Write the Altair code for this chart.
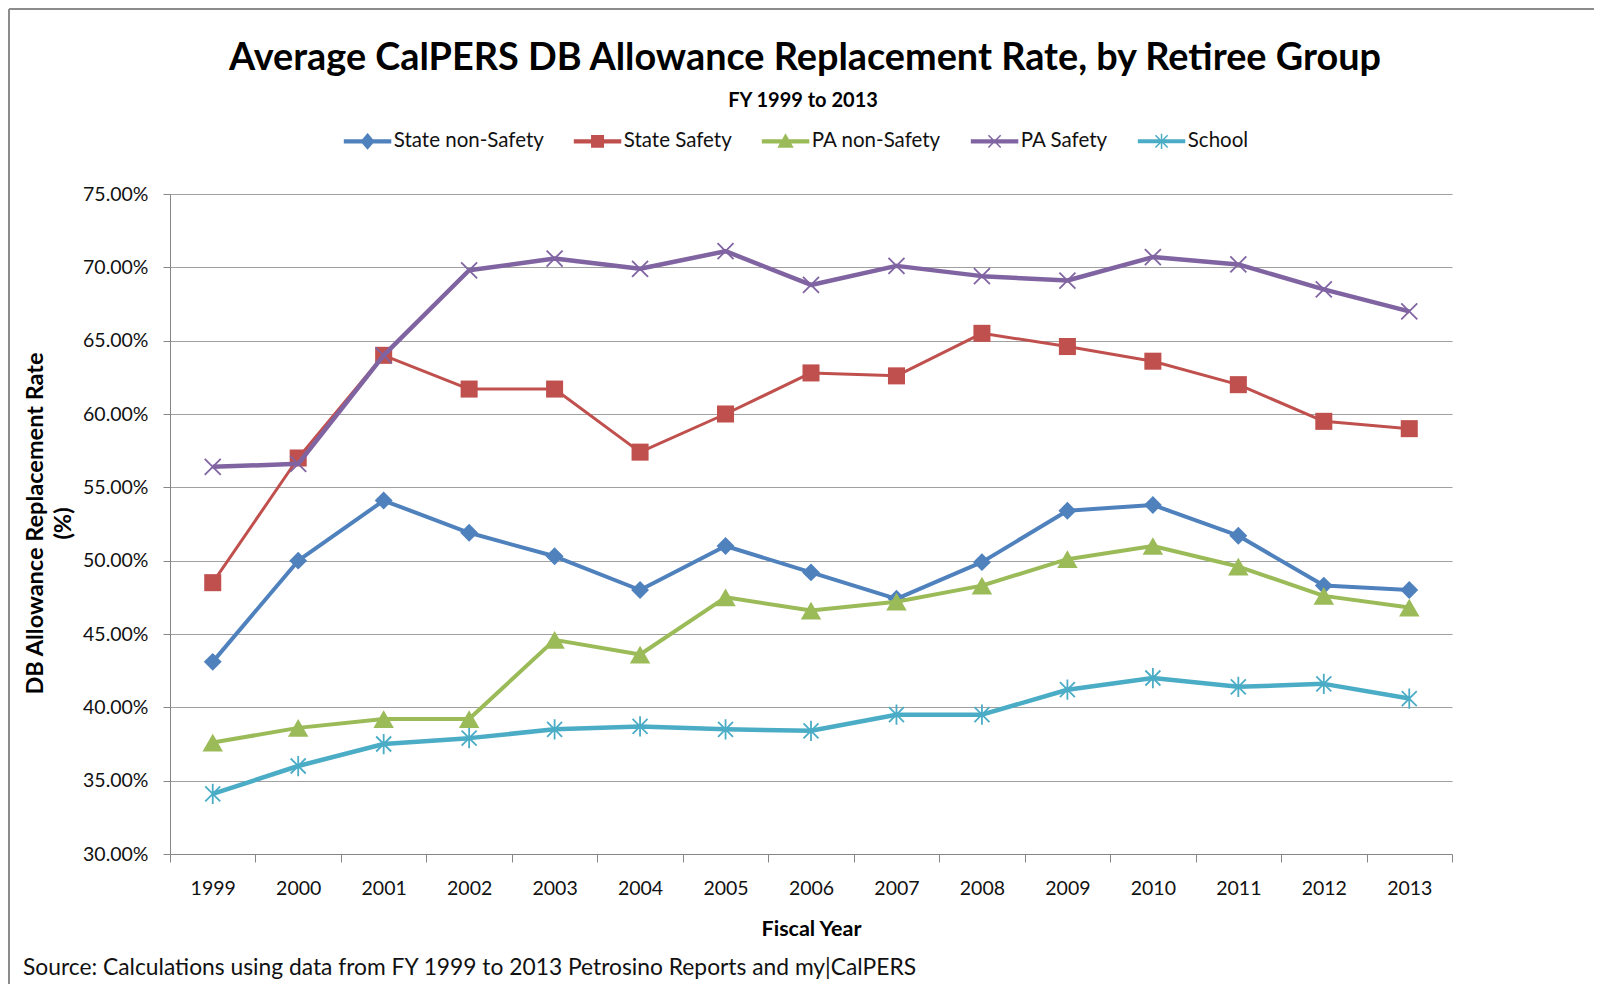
import altair as alt
import pandas as pd

# ---------------- data ----------------
years = [str(y) for y in range(1999, 2014)]
series_names = ["State non-Safety", "State Safety", "PA non-Safety", "PA Safety", "School"]
state_non_safety = [43.1, 50.0, 54.1, 51.9, 50.3, 48.0, 51.0, 49.2, 47.4, 49.9, 53.4, 53.8, 51.7, 48.3, 48.0]
state_safety = [48.5, 57.0, 64.0, 61.7, 61.7, 57.4, 60.0, 62.8, 62.6, 65.5, 64.6, 63.6, 62.0, 59.5, 59.0]
pa_non_safety = [37.6, 38.6, 39.2, 39.2, 44.6, 43.6, 47.5, 46.6, 47.2, 48.3, 50.1, 51.0, 49.6, 47.6, 46.8]
pa_safety = [56.4, 56.6, 64.0, 69.8, 70.6, 69.9, 71.1, 68.8, 70.1, 69.4, 69.1, 70.7, 70.2, 68.5, 67.0]
school = [34.1, 36.0, 37.5, 37.9, 38.5, 38.7, 38.5, 38.4, 39.5, 39.5, 41.2, 42.0, 41.4, 41.6, 40.6]
y_ticks = [30, 35, 40, 45, 50, 55, 60, 65, 70, 75]

title_text = "Average CalPERS DB Allowance Replacement Rate, by Retiree Group"
subtitle_text = "FY 1999 to 2013"
source_text = "Source: Calculations using data from FY 1999 to 2013 Petrosino Reports and my|CalPERS"
y_title = ["DB Allowance Replacement Rate", "(%)"]
x_title = "Fiscal Year"

# ---------------- styles ----------------
colors = ["#4F81BD", "#C0504D", "#9BBB59", "#8064A2", "#4BACC6"]
line_widths = [4, 3, 4, 4.5, 4.5]
X_PATH = "M-1,-1L1,1M-1,1L1,-1"
STAR_PATH = "M-1,-1L1,1M-1,1L1,-1M0,-1.35L0,1.35"
marker_styles = [
    dict(shape="diamond", filled=True, size=320),
    dict(shape="square", filled=True, size=290),
    dict(shape="triangle-up", filled=True, size=420),
    dict(shape=X_PATH, filled=False, size=256, strokeWidth=1.8),
    dict(shape=STAR_PATH, filled=False, size=225, strokeWidth=1.8),
]
LINE_SEG = "M-3,-0.17L3,-0.17L3,0.17L-3,0.17Z"
legend_paths = [
    LINE_SEG + "M0,-0.95L0.8,0L0,0.95L-0.8,0Z",
    LINE_SEG + "M-0.75,-0.75L0.75,-0.75L0.75,0.75L-0.75,0.75Z",
    LINE_SEG + "M0,-0.85L0.9,0.75L-0.9,0.75Z",
    LINE_SEG + "M-0.8,-0.8L0.8,0.8M-0.8,0.8L0.8,-0.8",
    LINE_SEG + "M-0.8,-0.8L0.8,0.8M-0.8,0.8L0.8,-0.8M0,-1L0,1",
]

FONT = "Lato"
W, H = 1282, 660
PAD = {"left": 162, "top": 186, "right": 142, "bottom": 130}
GRID = "#a0a0a0"
AXIS_GRAY = "#868686"
TXT = "#111111"

rows = []
for name, vals in zip(series_names, [state_non_safety, state_safety, pa_non_safety, pa_safety, school]):
    for yr, v in zip(years, vals):
        rows.append({"year": yr, "series": name, "value": v})
df = pd.DataFrame(rows)
annot = pd.DataFrame({"k": [0]})

x_enc = alt.X(
    "year:O",
    scale=alt.Scale(type="band", paddingInner=0, paddingOuter=0),
    axis=alt.Axis(
        title=x_title, tickBand="extent", labelAngle=0, grid=False,
        labelFont=FONT, labelFontSize=19.5, labelColor=TXT, labelPadding=17,
        tickSize=8, tickColor=AXIS_GRAY, domainColor=AXIS_GRAY,
        titleFont=FONT, titleFontSize=21.5, titleFontWeight="bold", titleColor="black",
        titleY=81, titleBaseline="alphabetic",
    ),
)
y_enc = alt.Y(
    "value:Q",
    scale=alt.Scale(domain=[30, 75], nice=False, zero=False),
    axis=alt.Axis(
        values=y_ticks, labelExpr="format(datum.value, '.2f') + '%'",
        title=y_title, grid=True, gridColor=GRID, gridWidth=1,
        labelFont=FONT, labelFontSize=19.5, labelColor=TXT, labelPadding=15,
        tickSize=7, tickColor=AXIS_GRAY, domainColor=AXIS_GRAY,
        titleFont=FONT, titleFontSize=23.5, titleFontWeight="bold", titleColor="black",
        titleAngle=270, titleX=-135, titleY=329, titleAlign="center", titleBaseline="middle",
        titleLineHeight=28,
    ),
)

base = alt.Chart(df).encode(x=x_enc, y=y_enc)
layers = []
for name, color, lw, ms in zip(series_names, colors, line_widths, marker_styles):
    sub = base.transform_filter(alt.datum.series == name)
    layers.append(sub.mark_line(color=color, strokeWidth=lw, strokeJoin="round"))
    layers.append(sub.mark_point(color=color, opacity=1, **ms))

leg = alt.Legend(
    title=None, orient="none", legendX=172, legendY=-63, direction="horizontal",
    labelFont=FONT, labelFontSize=20.5, labelColor=TXT, labelLimit=400,
    symbolSize=235, symbolOffset=15.3, labelOffset=16, columnPadding=27,
    symbolStrokeWidth=1.5,
)
legend_layer = alt.Chart(df).transform_filter("datum.value < 0").mark_point(
    filled=True, opacity=1, size=235, strokeWidth=1.5
).encode(
    fill=alt.Fill("series:N", scale=alt.Scale(domain=series_names, range=colors), legend=leg),
    stroke=alt.Stroke("series:N", scale=alt.Scale(domain=series_names, range=colors), legend=leg),
    shape=alt.Shape("series:N", scale=alt.Scale(domain=series_names, range=legend_paths), legend=leg),
)

title_layer = alt.Chart(annot).mark_text(
    text=title_text, font=FONT, fontSize=37.8, fontWeight="bold", align="center",
    baseline="alphabetic", color="black"
).encode(x=alt.value(635), y=alt.value(-124))
subtitle_layer = alt.Chart(annot).mark_text(
    text=subtitle_text, font=FONT, fontSize=20, fontWeight="bold", align="center",
    baseline="alphabetic", color="black"
).encode(x=alt.value(633), y=alt.value(-87))
source_layer = alt.Chart(annot).mark_text(
    text=source_text, font=FONT, fontSize=22.8, align="left",
    baseline="alphabetic", color=TXT
).encode(x=alt.value(-147), y=alt.value(781))
border_left = alt.Chart(annot).mark_rule(color="#8c8c8c", strokeWidth=2).encode(
    x=alt.value(-161), y=alt.value(-185), y2=alt.value(900))
border_top = alt.Chart(annot).mark_rule(color="#8c8c8c", strokeWidth=2).encode(
    x=alt.value(-161), x2=alt.value(1500), y=alt.value(-185))

chart = alt.layer(
    border_left, border_top, *layers, legend_layer, title_layer, subtitle_layer, source_layer
).properties(
    width=W, height=H,
    autosize=alt.AutoSizeParams(type="none"),
    padding=PAD,
    background="white",
).configure_view(stroke=None)

chart.save("out.html", embed_options={"renderer": "svg", "actions": False})
